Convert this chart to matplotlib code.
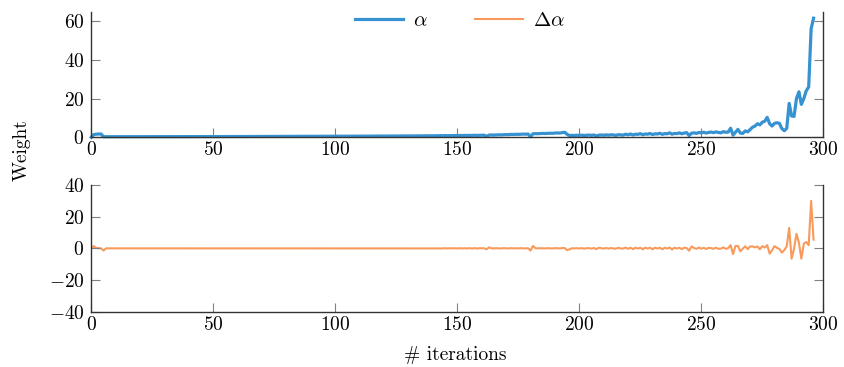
import matplotlib
matplotlib.use('Agg')
import matplotlib.pyplot as plt
import numpy as np

# weight alpha per iteration
alpha = [
    0, 1.4, 1.6, 1.7, 1.7, 0.3, 0.3, 0.3, 0.3, 0.3, 0.3, 0.3, 0.3, 0.3, 0.3, 0.3, 0.3, 0.3, 0.3, 0.3,
    0.3, 0.31, 0.3, 0.31, 0.32, 0.31, 0.32, 0.32, 0.33, 0.32, 0.33, 0.33, 0.34, 0.33, 0.34, 0.34, 0.35, 0.34, 0.35, 0.35,
    0.36, 0.35, 0.36, 0.37, 0.36, 0.37, 0.37, 0.38, 0.37, 0.38, 0.38, 0.39, 0.38, 0.39, 0.39, 0.4, 0.39, 0.4, 0.4, 0.41,
    0.4, 0.41, 0.42, 0.41, 0.42, 0.43, 0.42, 0.43, 0.44, 0.43, 0.44, 0.45, 0.44, 0.45, 0.46, 0.45, 0.46, 0.47, 0.46, 0.47,
    0.48, 0.5, 0.47, 0.49, 0.5, 0.48, 0.5, 0.51, 0.49, 0.51, 0.52, 0.5, 0.52, 0.53, 0.51, 0.53, 0.54, 0.52, 0.54, 0.55,
    0.54, 0.56, 0.55, 0.57, 0.56, 0.58, 0.57, 0.59, 0.58, 0.6, 0.58, 0.61, 0.6, 0.62, 0.6, 0.63, 0.61, 0.64, 0.62, 0.65,
    0.63, 0.66, 0.64, 0.67, 0.65, 0.69, 0.66, 0.7, 0.68, 0.72, 0.69, 0.73, 0.7, 0.75, 0.72, 0.76, 0.73, 0.78, 0.75, 0.8,
    0.76, 0.82, 0.78, 0.85, 0.8, 0.88, 0.83, 0.9, 0.85, 0.93, 0.87, 0.95, 0.9, 0.98, 0.92, 1.0, 0.95, 1.05, 0.98, 1.02,
    1.05, 1.1, 0.5, 1.15, 1.2, 1.15, 1.25, 1.3, 1.25, 1.35, 1.4, 1.35, 1.5, 1.45, 1.55, 1.5, 1.6, 1.65, 1.6, 1.7,
    0.3, 1.8, 1.9, 1.85, 1.95, 2.0, 1.95, 2.05, 2.1, 2.05, 2.2, 2.25, 2.2, 2.4, 2.6, 1.5, 0.9, 1.0, 0.95, 1.05,
    1.0, 1.1, 0.95, 1.05, 1.15, 1.0, 1.2, 0.7, 1.1, 1.2, 1.05, 1.25, 1.1, 1.3, 1.2, 1.0, 1.35, 1.25, 1.15, 1.6,
    1.3, 1.7, 1.2, 1.6, 1.5, 1.9, 1.3, 1.7, 1.6, 2.0, 1.4, 1.8, 1.7, 2.1, 1.5, 1.9, 1.8, 2.3, 1.6, 2.0,
    1.9, 2.3, 1.8, 2.2, 2.4, 0.9, 2.1, 2.3, 2.0, 2.5, 2.3, 2.6, 2.2, 2.5, 2.7, 2.4, 2.8, 2.5, 2.3, 2.9,
    2.6, 2.7, 4.7, 1.1, 2.6, 4.1, 2.2, 2.0, 3.3, 2.8, 4.0, 5.2, 5.8, 7.0, 6.4, 7.8, 8.3, 10.3, 7.0, 5.8,
    7.2, 7.5, 7.2, 4.5, 3.4, 4.6, 17.5, 11.0, 10.8, 20.0, 23.5, 17.0, 20.0, 24.0, 26.0, 56.0, 61.5,
]

# change of alpha per iteration
delta = [
    0, 1.4, 0.2, 0.1, 0.0, -1.4, 0, 0, 0, 0, 0, 0, 0, 0, 0, 0, 0, 0, 0, 0,
    0, 0.01, -0.01, 0.01, 0.01, -0.01, 0.01, 0, 0.01, -0.01, 0.01, 0, 0.01, -0.01, 0.01, 0, 0.01, -0.01, 0.01, 0,
    0.01, -0.01, 0.01, 0.01, -0.01, 0.01, 0, 0.01, -0.01, 0.01, 0, 0.01, -0.01, 0.01, 0, 0.01, -0.01, 0.01, 0, 0.01,
    -0.01, 0.01, 0.01, -0.01, 0.01, 0.01, -0.01, 0.01, 0.01, -0.01, 0.01, 0.01, -0.01, 0.01, 0.01, -0.01, 0.01, 0.01, -0.01, 0.01,
    0.01, 0.02, -0.03, 0.02, 0.01, -0.02, 0.02, 0.01, -0.02, 0.02, 0.01, -0.02, 0.02, 0.01, -0.02, 0.02, 0.01, -0.02, 0.02, 0.01,
    -0.01, 0.02, -0.01, 0.02, -0.01, 0.02, -0.01, 0.02, -0.01, 0.02, -0.02, 0.03, -0.01, 0.02, -0.02, 0.03, -0.02, 0.03, -0.02, 0.03,
    -0.02, 0.03, -0.02, 0.03, -0.02, 0.04, -0.03, 0.04, -0.02, 0.04, -0.03, 0.04, -0.03, 0.05, -0.03, 0.04, -0.03, 0.05, -0.03, 0.05,
    -0.04, 0.06, -0.04, 0.07, -0.05, 0.08, -0.05, 0.07, -0.05, 0.08, -0.06, 0.08, -0.05, 0.08, -0.06, 0.08, -0.05, 0.1, -0.07, 0.04,
    0.03, 0.05, -0.6, 0.65, 0.05, -0.05, 0.1, 0.05, -0.05, 0.1, 0.05, -0.05, 0.15, -0.05, 0.1, -0.05, 0.1, 0.05, -0.05, 0.1,
    -1.4, 1.5, 0.1, -0.05, 0.1, 0.05, -0.05, 0.1, 0.05, -0.05, 0.15, 0.05, -0.05, 0.2, 0.2, -1.1, -0.6, 0.1, -0.05, 0.1,
    -0.05, 0.1, -0.15, 0.1, 0.1, -0.15, 0.2, -0.5, 0.4, 0.1, -0.15, 0.2, -0.15, 0.2, -0.1, -0.2, 0.35, -0.1, -0.1, 0.45,
    -0.3, 0.4, -0.5, 0.4, -0.1, 0.4, -0.6, 0.4, -0.1, 0.4, -0.6, 0.4, -0.1, 0.4, -0.6, 0.4, -0.1, 0.5, -0.7, 0.4,
    -0.1, 0.4, -0.5, 0.4, 0.2, -1.5, 1.2, 0.2, -0.3, 0.5, -0.2, 0.3, -0.4, 0.3, 0.2, -0.3, 0.4, -0.3, -0.2, 0.6,
    -0.3, 0.1, 2.0, -3.6, 1.5, 1.5, -1.9, -0.2, 1.3, -0.5, 1.2, 1.2, 0.6, 1.2, -0.6, 1.4, 0.5, 2.0, -3.3, -1.2,
    1.4, 0.3, -0.3, -2.7, -1.1, 1.2, 12.9, -6.5, -0.2, 9.2, 3.5, -6.5, 3.0, 4.0, 2.0, 30.0, 5.5,
]

iterations = np.arange(len(alpha))
xticks = [0, 50, 100, 150, 200, 250, 300]
top_yticks = [0, 20, 40, 60]
bottom_yticks = [-40, -20, 0, 20, 40]

plt.rcParams['font.family'] = 'serif'
plt.rcParams['font.serif'] = ['cmr10']
plt.rcParams['mathtext.fontset'] = 'cm'
plt.rcParams['axes.formatter.use_mathtext'] = True
plt.rcParams['font.size'] = 14

blue = '#3692d1'
orange = '#f79a5b'

fig = plt.figure(figsize=(8.44, 3.67), dpi=100)
ax1 = fig.add_axes([0.1082, 0.6259, 0.8673, 0.3414])
ax2 = fig.add_axes([0.1082, 0.1507, 0.8673, 0.3452])

l1, = ax1.plot(iterations, alpha, color=blue, lw=2.3, label=r'$\alpha$', clip_on=False, zorder=1)
l2, = ax2.plot(iterations, delta, color=orange, lw=1.5, label=r'$\Delta\alpha$', zorder=1)

ax1.set_ylim(0, 64.7)
ax1.set_yticks(top_yticks)
ax2.set_ylim(-40, 40)
ax2.set_yticks(bottom_yticks)

for ax in (ax1, ax2):
    ax.set_xlim(0, 300)
    ax.set_xticks(xticks)
    ax.spines['top'].set_visible(False)
    for s in ('left', 'bottom', 'right'):
        ax.spines[s].set_color('0.2')
        ax.spines[s].set_linewidth(1.0)
        ax.spines[s].set_zorder(3)
    ax.tick_params(direction='in', length=6.5, width=0.8, color='0.5',
                   right=True, top=False, labelsize=14)
    ax.tick_params(axis='y', pad=5)
    ax.tick_params(axis='x', pad=3)

fig.legend(handles=[l1, l2], loc='center', bbox_to_anchor=(0.545, 0.944), ncol=2,
           frameon=False, handlelength=2.3, handletextpad=0.45, columnspacing=2.3,
           fontsize=15)

fig.text(0.026, 0.591, 'Weight', rotation=90, ha='center', va='center', fontsize=14)
fig.text(0.539, 0.033, '# iterations', ha='center', va='center', fontsize=14)

fig.savefig('out.png', dpi=100)
